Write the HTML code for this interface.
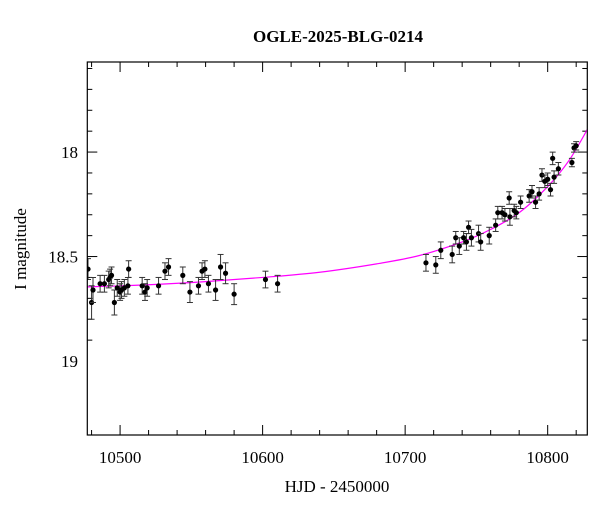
<!DOCTYPE html>
<html><head><meta charset="utf-8"><style>
html,body{margin:0;padding:0;background:#fff;}
svg{display:block;font-family:"Liberation Serif",serif;}
</style></head><body>
<svg id="chart" width="600" height="512" viewBox="0 0 600 512">
<text x="338" y="42" text-anchor="middle" font-size="17" font-weight="bold">OGLE-2025-BLG-0214</text>
<text x="337" y="492" text-anchor="middle" font-size="17">HJD - 2450000</text>
<text transform="translate(26,249) rotate(-90)" text-anchor="middle" font-size="17">I magnitude</text>
<g id="axes"></g>
<g id="model"></g>
<g id="points"></g>
<rect x="87.3" y="62" width="500" height="373" fill="none" stroke="#000" stroke-width="1.2"/>
</svg>
<script>
const days=[10477.5,10480,10481,10486,10489,10492,10493,10494,10496,10498,10500,10501,10503,10506,10505.5,10515.5,10517.5,10519,10527,10531.5,10534,10544,10549,10555,10557.5,10559.5,10562,10567,10570.5,10574,10580,10602,10610.5,
10714.6,10721.5,10725,10733,10735.5,10738,10741,10743,10744.5,10746.5,10751.5,10753,10759,10763.5,10765,10768,10770,10773,10773.5,10776.5,10778,10781,10787,10789,10791.5,10794,10796,10798,10800,10802,10803.5,10804.5,10807.5,10817,10818.5,10820];
const mags=[18.56,18.72,18.66,18.63,18.63,18.61,18.60,18.59,18.72,18.65,18.67,18.66,18.65,18.56,18.64,18.64,18.67,18.65,18.64,18.57,18.55,18.59,18.67,18.64,18.57,18.56,18.63,18.66,18.55,18.58,18.68,18.61,18.63,
18.53,18.54,18.47,18.49,18.41,18.45,18.41,18.43,18.36,18.41,18.39,18.43,18.40,18.35,18.29,18.29,18.30,18.22,18.31,18.28,18.29,18.24,18.21,18.19,18.24,18.20,18.11,18.14,18.13,18.18,18.03,18.12,18.08,18.05,17.98,17.97];
const errs=[0.05,0.08,0.06,0.04,0.04,0.04,0.04,0.04,0.06,0.04,0.04,0.04,0.04,0.04,0.04,0.04,0.04,0.04,0.04,0.04,0.04,0.04,0.05,0.04,0.04,0.04,0.04,0.05,0.06,0.05,0.05,0.04,0.04,
0.04,0.04,0.04,0.04,0.03,0.04,0.03,0.04,0.03,0.04,0.04,0.04,0.04,0.03,0.03,0.03,0.03,0.03,0.04,0.03,0.03,0.03,0.03,0.03,0.03,0.03,0.03,0.03,0.03,0.03,0.03,0.03,0.03,0.02,0.02,0.02];
const modelDays=[10477,10520,10560,10600,10640,10680,10710,10740,10760,10780,10800,10815,10828];
const modelMags=[18.645,18.635,18.62,18.60,18.575,18.535,18.495,18.43,18.37,18.29,18.165,18.04,17.89];
const xTicks=[10500,10600,10700,10800];
const yTicks=[18,18.5,19];
const yTickLabels=["18","18.5","19"];

const X0=87.3,X1=587.3,Y0=62,Y1=435;
const dMin=10477,dMax=10827.8,mTop=17.569,mBot=19.354;
const xs=d=>X0+(d-dMin)/(dMax-dMin)*(X1-X0);
const ys=m=>Y0+(m-mTop)/(mBot-mTop)*(Y1-Y0);
const NS="http://www.w3.org/2000/svg";
function mk(tag,attrs,parent){const e=document.createElementNS(NS,tag);for(const k in attrs)e.setAttribute(k,attrs[k]);parent.appendChild(e);return e;}
const axes=document.getElementById('axes');
for(let d=10480;d<=10820;d+=20){
  const major=d%100===0, L=major?10:5, x=xs(d);
  const t1=mk('line',{x1:x,x2:x,y1:Y1,y2:Y1-L,stroke:'#000','stroke-width':1},axes);
  
  
  const t2=mk('line',{x1:x,x2:x,y1:Y0,y2:Y0+L,stroke:'#000','stroke-width':1},axes);
  
  
}
xTicks.forEach(d=>{
  const t=mk('text',{x:xs(d),y:463,'text-anchor':'middle','font-size':17},axes);
  t.textContent=String(d);
  
  
});
for(let i=6;i<=19;i++){
  const m=17+i/10*1, y=ys(17.0+i*0.1); const major=(i%5===0); const L=major?10:5;
  const a=mk('line',{x1:X0,x2:X0+L,y1:y,y2:y,stroke:'#000','stroke-width':1},axes);
  
  
  const b=mk('line',{x1:X1,x2:X1-L,y1:y,y2:y,stroke:'#000','stroke-width':1},axes);
  
  
}
yTicks.forEach((m,i)=>{
  const t=mk('text',{x:78,y:ys(m)+6,'text-anchor':'end','font-size':17},axes);
  t.textContent=yTickLabels[i];
  
  
});
// model curve (smooth via Catmull-Rom)
const pts=modelDays.map((d,i)=>[xs(d),ys(modelMags[i])]);
let p='M'+pts[0][0]+','+pts[0][1];
for(let i=0;i<pts.length-1;i++){
  const p0=pts[Math.max(0,i-1)],p1=pts[i],p2=pts[i+1],p3=pts[Math.min(pts.length-1,i+2)];
  p+=` C${p1[0]+(p2[0]-p0[0])/6},${p1[1]+(p2[1]-p0[1])/6} ${p2[0]-(p3[0]-p1[0])/6},${p2[1]-(p3[1]-p1[1])/6} ${p2[0]},${p2[1]}`;
}
const svgEl=document.getElementById('chart');
const cp=mk('clipPath',{id:'clip'},svgEl);
mk('rect',{x:X0,y:Y0,width:X1-X0,height:Y1-Y0},cp);
const model=document.getElementById('model');
const ml=mk('path',{d:p,fill:'none',stroke:'#ff00ff','stroke-width':1.2,'clip-path':'url(#clip)'},model);


const g=document.getElementById('points');
days.forEach((d,i)=>{
  const x=xs(d),y=ys(mags[i]),e=errs[i];
  const ya=ys(mags[i]-e),yb=ys(mags[i]+e);
  const grp=mk('g',{stroke:'#333','stroke-width':1,'clip-path':'url(#clip)'},g);
  
  
  mk('line',{x1:x,x2:x,y1:ya,y2:yb},grp);
  mk('line',{x1:x-3,x2:x+3,y1:ya,y2:ya},grp);
  mk('line',{x1:x-3,x2:x+3,y1:yb,y2:yb},grp);
  mk('circle',{cx:x,cy:y,r:2.6,fill:'#000',stroke:'none'},grp);
});
</script>
</body></html>
